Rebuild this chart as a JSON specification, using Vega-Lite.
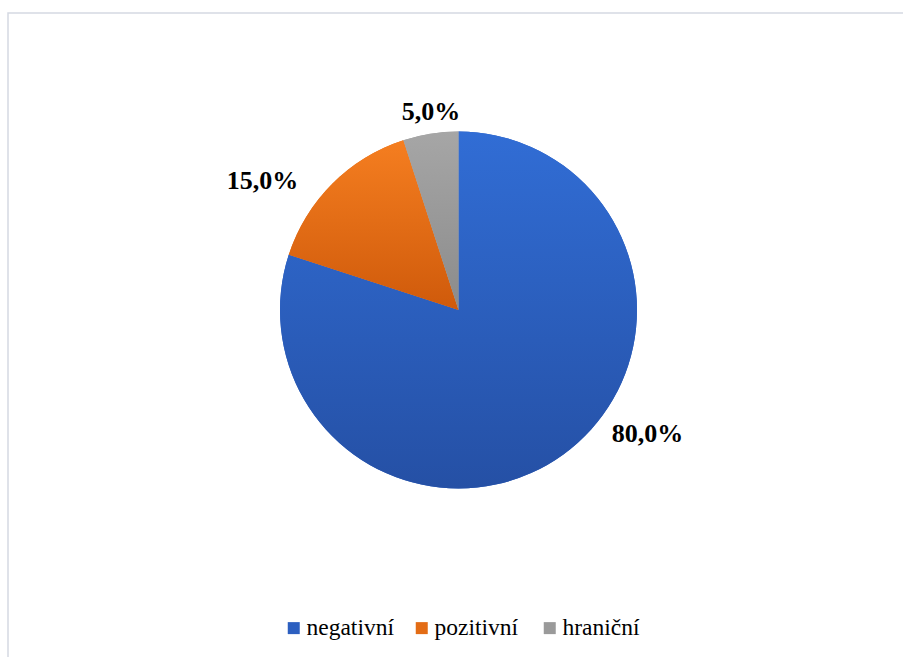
{
  "$schema": "https://vega.github.io/schema/vega-lite/v6.json",
  "width": 1000,
  "height": 700,
  "autosize": "none",
  "padding": {"left": 8, "top": 13, "right": 0, "bottom": 0},
  "background": "white",
  "view": {"stroke": "#D5D9E2", "strokeWidth": 1.5, "fill": "white"},
  "data": {"values": [
    {"k": "negativní", "v": 80, "i": 1, "label": "80,0%"},
    {"k": "pozitivní", "v": 15, "i": 2, "label": "15,0%"},
    {"k": "hraniční", "v": 5, "i": 3, "label": "5,0%"}
  ]},
  "layer": [
    {
      "mark": {"type": "arc", "radius": 178.5, "xOffset": -49.5, "yOffset": -53},
      "encoding": {
        "theta": {"field": "v", "type": "quantitative", "stack": true},
        "order": {"field": "i", "type": "quantitative"},
        "color": {
          "field": "k", "type": "nominal",
          "sort": ["negativní", "pozitivní", "hraniční"],
          "scale": {"domain": ["negativní", "pozitivní", "hraniční"], "range": ["#2C5FC0", "#E36C15", "#9A9A9A"]},
          "legend": {
            "orient": "none", "legendX": 274, "legendY": 603,
            "direction": "horizontal", "columns": 3, "gridAlign": "all", "columnPadding": 16,
            "title": null, "symbolType": "square", "symbolSize": 144, "symbolStrokeWidth": 0,
            "labelFont": "Liberation Serif", "labelFontSize": 23.5, "labelColor": "#000",
            "labelOffset": 1, "padding": 0, "labelLimit": 300
          }
        }
      }
    },
    {
      "mark": {"type": "arc", "radius": 178.5, "xOffset": -49.5, "yOffset": -53},
      "encoding": {
        "theta": {"field": "v", "type": "quantitative", "stack": true},
        "order": {"field": "i", "type": "quantitative"},
        "fill": {
          "condition": [
            {"test": "datum.k === 'negativní'", "value": {"gradient": "linear", "x1": 0, "y1": 0, "x2": 0, "y2": 1, "stops": [{"offset": 0, "color": "#316DD5"}, {"offset": 1, "color": "#2550A5"}]}},
            {"test": "datum.k === 'pozitivní'", "value": {"gradient": "linear", "x1": 0, "y1": 0, "x2": 0, "y2": 1, "stops": [{"offset": 0, "color": "#F57E20"}, {"offset": 1, "color": "#CF5A0B"}]}}
          ],
          "value": {"gradient": "linear", "x1": 0, "y1": 0, "x2": 0, "y2": 1, "stops": [{"offset": 0, "color": "#A6A6A6"}, {"offset": 1, "color": "#8B8B8B"}]}
        }
      }
    },
    {
      "mark": {"type": "text", "font": "Liberation Serif", "fontWeight": "bold", "fontSize": 26, "color": "#000", "xOffset": -49.5, "yOffset": -53, "align": "center", "baseline": "middle"},
      "encoding": {
        "theta": {"field": "v", "type": "quantitative", "stack": null, "scale": {"type": "linear", "zero": false, "domain": [5, 15, 80], "range": [6.145, 5.296, 2.151]}},
        "radius": {"field": "v", "type": "quantitative", "scale": {"type": "linear", "zero": false, "domain": [5, 15, 80], "range": [200, 235, 226]}},
        "text": {"field": "label"}
      }
    }
  ],
  "resolve": {"scale": {"theta": "independent", "radius": "independent"}}
}
